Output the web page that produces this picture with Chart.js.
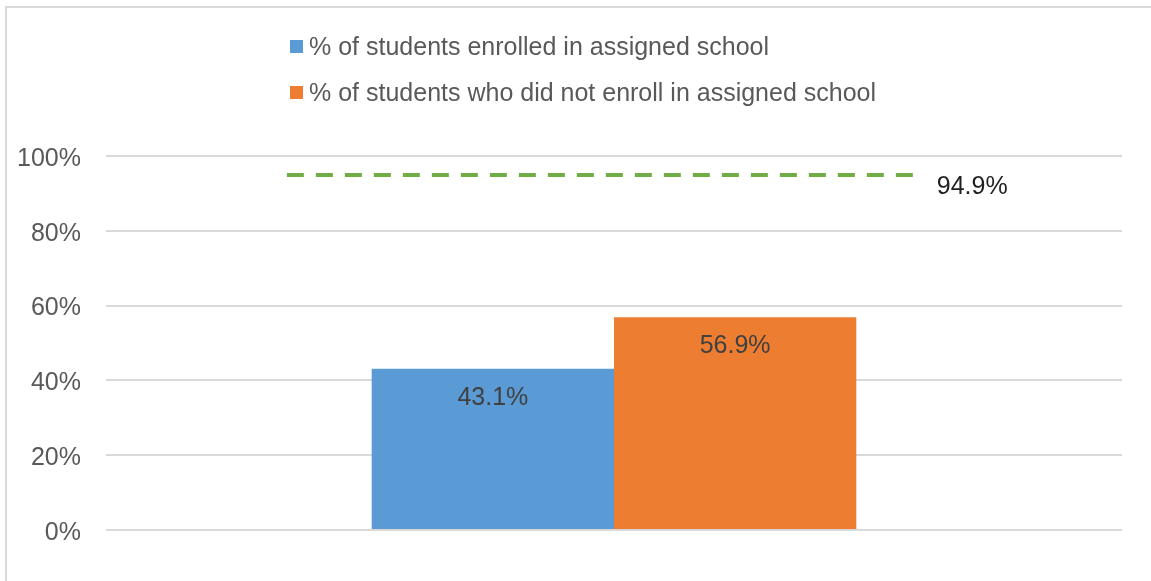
<!DOCTYPE html>
<html>
<head>
<meta charset="utf-8">
<script src="https://cdn.jsdelivr.net/npm/chart.js@4"></script>
<style>
  html, body { margin: 0; padding: 0; background: #fff; overflow: hidden; }
  #wrap { position: relative; width: 1151px; height: 581px; }
  #frame { position: absolute; left: 5px; top: 6px; width: 1300px; height: 800px; border: 2px solid #d9d9d9; box-sizing: border-box; }
  #chart { position: absolute; left: 0; top: 0; }
  #legend { position: absolute; left: 290px; top: 32px; font-family: 'Liberation Sans', Arial, sans-serif; font-size: 25px; color: #595959; }
  #legend .item { display: flex; align-items: center; height: 28px; margin-bottom: 18px; white-space: nowrap; }
  #legend .box { width: 13px; height: 13px; margin-right: 6px; flex: none; }
</style>
</head>
<body>
<div id="wrap">
  <div id="frame"></div>
  <canvas id="chart" width="1151" height="581"></canvas>
  <div id="legend"></div>
</div>
<script>
// данные
const categories = [''];
const seriesNames = ['% of students enrolled in assigned school', '% of students who did not enroll in assigned school'];
const enrolled = [43.1];
const notEnrolled = [56.9];
const benchmark = [94.9];
const seriesColors = ['#5b9bd5', '#ed7d31'];

const FONT = "'Liberation Sans', Arial, sans-serif";

// пунктирная линия ориентира (по шкале y)
const benchmarkLine = {
    id: 'benchmarkLine',
    afterDatasetsDraw(chart) {
        const { ctx, chartArea, scales } = chart;
        const w = chartArea.right - chartArea.left;
        const x1 = chartArea.left + w * 0.178;
        const x2 = chartArea.left + w * 0.796;
        const y = scales.y.getPixelForValue(benchmark[0]);
        ctx.save();
        ctx.strokeStyle = '#70ad47';
        ctx.lineWidth = 4;
        ctx.setLineDash([17, 12]);
        ctx.beginPath();
        ctx.moveTo(x1, y);
        ctx.lineTo(x2, y);
        ctx.stroke();
        ctx.setLineDash([]);
        ctx.font = '25px ' + FONT;
        ctx.textBaseline = 'middle';
        ctx.textAlign = 'left';
        ctx.fillStyle = '#1f1f1f';
        ctx.fillText(benchmark[0].toFixed(1) + '%', x2 + 22, y + 12);
        ctx.restore();
    }
};

// подписи значений на столбцах
const valueLabels = {
    id: 'valueLabels',
    afterDatasetsDraw(chart) {
        const ctx = chart.ctx;
        ctx.save();
        ctx.font = '25px ' + FONT;
        ctx.textBaseline = 'middle';
        ctx.textAlign = 'center';
        ctx.fillStyle = '#404040';
        chart.data.datasets.forEach((ds, i) => {
            chart.getDatasetMeta(i).data.forEach((bar, j) => {
                ctx.fillText(ds.data[j].toFixed(1) + '%', bar.x, bar.y + 29);
            });
        });
        ctx.restore();
    }
};

const chart = new Chart(document.getElementById('chart'), {
    type: 'bar',
    data: {
        labels: categories,
        datasets: [
            {
                label: seriesNames[0],
                data: enrolled,
                backgroundColor: seriesColors[0],
                categoryPercentage: 0.477,
                barPercentage: 1.0
            },
            {
                label: seriesNames[1],
                data: notEnrolled,
                backgroundColor: seriesColors[1],
                categoryPercentage: 0.477,
                barPercentage: 1.0
            }
        ]
    },
    options: {
        responsive: false,
        animation: false,
        layout: { padding: { top: 156, bottom: 51, right: 29, left: 0 } },
        plugins: {
            legend: { display: false },
            tooltip: { enabled: false }
        },
        scales: {
            x: { display: false },
            y: {
                min: 0,
                max: 100,
                ticks: {
                    stepSize: 20,
                    padding: 25,
                    labelOffset: 3,
                    color: '#595959',
                    font: { family: FONT, size: 25 },
                    callback: v => v + '%'
                },
                grid: { color: '#d9d9d9', lineWidth: 2, drawTicks: false },
                border: { display: false },
                afterFit: s => { s.width = 106; }
            }
        }
    },
    plugins: [benchmarkLine, valueLabels]
});

// легенда в столбик
const legendEl = document.getElementById('legend');
chart.data.datasets.forEach(ds => {
    const item = document.createElement('div');
    item.className = 'item';
    item.innerHTML = '<span class="box" style="background:' + ds.backgroundColor + '"></span><span>' + ds.label + '</span>';
    legendEl.appendChild(item);
});
</script>
</body>
</html>
